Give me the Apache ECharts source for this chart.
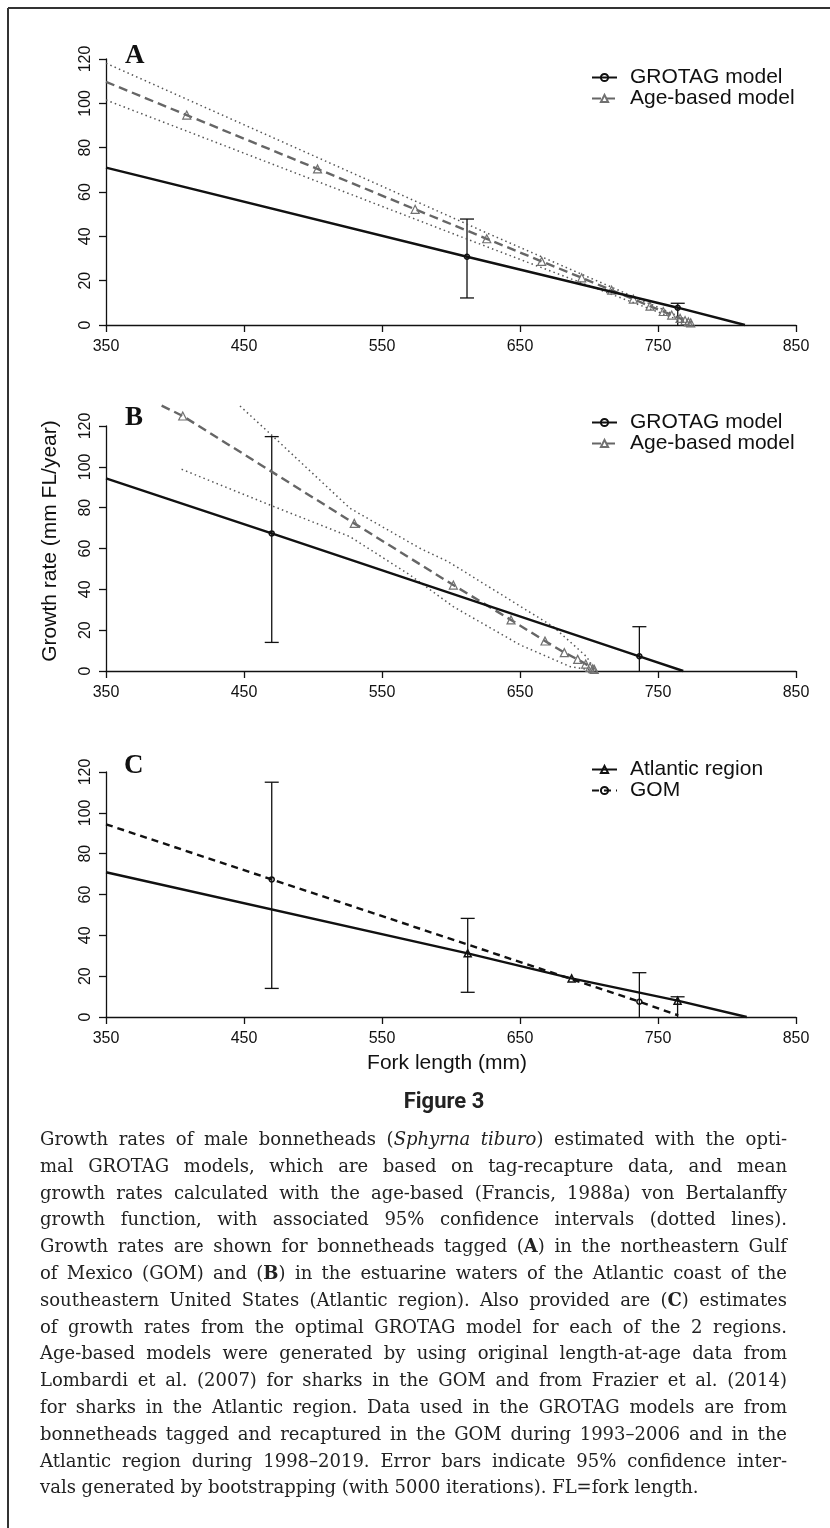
<!DOCTYPE html>
<html><head><meta charset="utf-8">
<script src="https://cdn.jsdelivr.net/npm/echarts@6/dist/echarts.min.js"></script>
<style>
html,body{margin:0;padding:0;background:#fff;}
#chart{position:absolute;left:0;top:0;width:830px;height:1528px;}
#caption{position:absolute;left:40px;top:1126px;width:747px;font-family:"DejaVu Serif",serif;font-size:18px;line-height:26.8px;color:#222;}
#caption div{text-align:justify;text-align-last:justify;white-space:normal;}
#caption div.last{text-align-last:left;}
</style></head><body>
<div id="chart"></div>
<div id="caption">
<div>Growth rates of male bonnetheads (<i>Sphyrna tiburo</i>) estimated with the opti-</div>
<div>mal GROTAG models, which are based on tag-recapture data, and mean</div>
<div>growth rates calculated with the age-based (Francis, 1988a) von Bertalanffy</div>
<div>growth function, with associated 95% confidence intervals (dotted lines).</div>
<div>Growth rates are shown for bonnetheads tagged (<b>A</b>) in the northeastern Gulf</div>
<div>of Mexico (GOM) and (<b>B</b>) in the estuarine waters of the Atlantic coast of the</div>
<div>southeastern United States (Atlantic region). Also provided are (<b>C</b>) estimates</div>
<div>of growth rates from the optimal GROTAG model for each of the 2 regions.</div>
<div>Age-based models were generated by using original length-at-age data from</div>
<div>Lombardi et al. (2007) for sharks in the GOM and from Frazier et al. (2014)</div>
<div>for sharks in the Atlantic region. Data used in the GROTAG models are from</div>
<div>bonnetheads tagged and recaptured in the GOM during 1993–2006 and in the</div>
<div>Atlantic region during 1998–2019. Error bars indicate 95% confidence inter-</div>
<div class="last">vals generated by bootstrapping (with 5000 iterations). FL=fork length.</div>
</div>
<script>
// ---------------- DATA ----------------
// Panel A (GOM)
const A_grotagStart = [350, 71.0];
const A_grotagPts   = [[611.6, 30.8], [764.3, 7.8]];
const A_grotagEnd   = [813, 0];
const A_grotagErr   = [[611.6, 12.2, 47.8], [764.3, -3, 9.8]];
const A_ageStart    = [350, 109.7];
const A_agePts      = [[408.5, 94.7], [503.3, 70.4], [574, 52.2], [625.9, 38.9], [665.7, 28.7], [694.7, 21.3], [716.4, 15.7], [732.1, 11.7], [744.2, 8.5], [753.8, 6.1], [759.9, 4.5], [766, 3.0], [769.6, 2.0], [772, 1.4], [773.7, 1.0]];
const A_ciUpper     = [[350, 118.1], [626, 41.5], [775, 1.2]];
const A_ciLower     = [[350, 101.5], [626, 35.3], [773, 0.4]];

// Panel B (Atlantic region)
const B_grotagStart = [350, 94.4];
const B_grotagPts   = [[470.1, 67.4], [736.5, 7.2]];
const B_grotagEnd   = [768.3, 0];
const B_grotagErr   = [[470.1, 14.0, 114.8], [736.5, -3, 21.7]];
const B_ageStart    = [390.3, 130];
const B_agePts      = [[405.6, 124.9], [529.9, 72.3], [601.7, 42.1], [643.5, 25.0], [668.1, 14.7], [682.1, 9.0], [691.8, 5.7], [697.6, 3.4], [700.7, 1.8], [702.7, 1.1], [703.8, 0.8]];
const B_ciUpper     = [[447.1, 129.8], [471.2, 114.8], [526.8, 79.7], [577.5, 60.1], [598.1, 53.5], [674.1, 21.7], [698.3, 7.0], [704.3, 0.5]];
const B_ciLower     = [[404.8, 98.8], [468.8, 81.3], [526.8, 65.8], [570.3, 47.0], [601.7, 31.5], [650.3, 12.7], [686.5, 2.1], [701, 0.5]];

// Panel C (both regions, GROTAG)
const C_atlStart = [350, 70.9];
const C_atlPts   = [[612.1, 31.2], [687.4, 18.9], [764.2, 8.0]];
const C_atlEnd   = [814.3, 0];
const C_gomStart = [350, 94.4];
const C_gomPts   = [[470.1, 67.4], [736.5, 7.5]];
const C_gomEnd   = [764.7, 0.8];
const C_err      = [[470.1, 14.0, 115.0], [612.1, 12.1, 48.3], [736.5, -3, 21.7], [764.2, -3, 9.9]];

const xTicks = {min: 350, max: 850, step: 100};
const yTicks = {min: 0, max: 120, step: 20};
const legendA = ['GROTAG model', 'Age-based model'];
const legendC = ['Atlantic region', 'GOM'];

// ---------------- CHART ----------------
const SANS = '"Liberation Sans", Arial, sans-serif';
const grids = [
  {left: 106, top: 59, width: 690, height: 266},
  {left: 106, top: 426, width: 690, height: 245},
  {left: 106, top: 772, width: 690, height: 245}
].map(g => Object.assign(g, {outerBoundsMode: 'none', containLabel: false}));

function xAxis(gi) {
  return {gridIndex: gi, type: 'value', min: xTicks.min, max: xTicks.max, interval: xTicks.step,
    axisLine: {show: true, onZero: false, lineStyle: {color: '#111', width: 1.3}},
    axisTick: {show: true, inside: false, length: 7, lineStyle: {color: '#111', width: 1.3}},
    axisLabel: {show: true, fontFamily: SANS, fontSize: 16, color: '#111', margin: 14, showMinLabel: true, showMaxLabel: true},
    splitLine: {show: false}};
}
function yAxis(gi) {
  return {gridIndex: gi, type: 'value', min: yTicks.min, max: yTicks.max, interval: yTicks.step,
    axisLine: {show: true, onZero: false, lineStyle: {color: '#111', width: 1.3}},
    axisTick: {show: true, inside: false, length: 7, lineStyle: {color: '#111', width: 1.3}},
    axisLabel: {show: true, rotate: 90, fontFamily: SANS, fontSize: 16, color: '#111', margin: 12, showMinLabel: true, showMaxLabel: true},
    splitLine: {show: false}};
}
function lineData(start, pts, end) {
  const d = [{value: start, symbol: 'none'}].concat(pts.map(p => ({value: p})));
  if (end) d.push({value: end, symbol: 'none'});
  return d;
}
function solid(name, gi, data, symbol, size) {
  return {type: 'line', name, xAxisIndex: gi, yAxisIndex: gi, data, symbol, symbolSize: size,
    showSymbol: true, showAllSymbol: true, clip: false, z: 4, silent: true,
    lineStyle: {color: '#111', width: 2.4, type: 'solid'},
    itemStyle: {color: 'rgba(255,255,255,0)', borderColor: '#111', borderWidth: 1.5}};
}
function ageLine(gi, data) {
  return {type: 'line', name: 'Age-based model', xAxisIndex: gi, yAxisIndex: gi, data, symbol: 'triangle', symbolSize: 8,
    showSymbol: true, showAllSymbol: true, clip: false, z: 3, silent: true,
    lineStyle: {color: '#666', width: 2.4, type: [9, 5]},
    itemStyle: {color: 'rgba(255,255,255,0)', borderColor: '#707070', borderWidth: 1.2}};
}
function dotted(name, gi, data) {
  return {type: 'line', name, xAxisIndex: gi, yAxisIndex: gi, data, symbol: 'none', clip: false, z: 2, silent: true,
    lineStyle: {color: '#555', width: 1.5, type: [1.5, 3.2]}};
}
function errBars(name, gi, data) {
  return {type: 'custom', name, xAxisIndex: gi, yAxisIndex: gi, data, z: 1, silent: true, clip: false,
    encode: {x: 0, y: [1, 2]},
    renderItem: function (params, api) {
      const x = api.value(0), lo = api.value(1), hi = api.value(2);
      const top = api.coord([x, hi]);
      const bot = api.coord([x, Math.max(lo, yTicks.min)]);
      const st = {stroke: '#111', lineWidth: 1.3};
      const c = [
        {type: 'line', shape: {x1: top[0], y1: top[1], x2: bot[0], y2: bot[1]}, style: st},
        {type: 'line', shape: {x1: top[0] - 7, y1: top[1], x2: top[0] + 7, y2: top[1]}, style: st}
      ];
      if (lo >= yTicks.min) c.push({type: 'line', shape: {x1: bot[0] - 7, y1: bot[1], x2: bot[0] + 7, y2: bot[1]}, style: st});
      return {type: 'group', children: c};
    }};
}

const legendBase = {orient: 'vertical', left: 591, itemWidth: 25, itemHeight: 9, itemGap: 0, selectedMode: false,
  padding: 0, textStyle: {fontFamily: SANS, fontSize: 21, color: '#111', lineHeight: 19.5, padding: [0, 0, 0, 8]}};

const option = {
  animation: false,
  backgroundColor: '#fff',
  grid: grids,
  xAxis: [xAxis(0), xAxis(1), xAxis(2)],
  yAxis: [yAxis(0), yAxis(1), yAxis(2)],
  legend: [
    Object.assign({}, legendBase, {data: legendA, top: 67}),
    Object.assign({}, legendBase, {data: legendA, top: 412}),
    Object.assign({}, legendBase, {data: legendC, top: 759})
  ],
  series: [
    errBars('errA', 0, A_grotagErr),
    dotted('ciAu', 0, A_ciUpper), dotted('ciAl', 0, A_ciLower),
    ageLine(0, lineData(A_ageStart, A_agePts)),
    solid('GROTAG model', 0, lineData(A_grotagStart, A_grotagPts, A_grotagEnd), 'circle', 5),

    errBars('errB', 1, B_grotagErr),
    dotted('ciBu', 1, B_ciUpper), dotted('ciBl', 1, B_ciLower),
    ageLine(1, lineData(B_ageStart, B_agePts)),
    solid('GROTAG model', 1, lineData(B_grotagStart, B_grotagPts, B_grotagEnd), 'circle', 5),

    errBars('errC', 2, C_err),
    solid('Atlantic region', 2, lineData(C_atlStart, C_atlPts, C_atlEnd), 'triangle', 7),
    Object.assign(solid('GOM', 2, lineData(C_gomStart, C_gomPts, C_gomEnd), 'circle', 5),
      {lineStyle: {color: '#111', width: 2.4, type: [7, 5]}})
  ],
  graphic: [
    {type: 'line', shape: {x1: 8, y1: 8, x2: 830, y2: 8}, style: {stroke: '#333', lineWidth: 2}},
    {type: 'line', shape: {x1: 8, y1: 8, x2: 8, y2: 1528}, style: {stroke: '#333', lineWidth: 2}},
    {type: 'text', x: 125, y: 56, style: {text: 'A', font: 'bold 27px "Liberation Serif", serif', fill: '#111', align: 'left', verticalAlign: 'middle'}},
    {type: 'text', x: 125, y: 418, style: {text: 'B', font: 'bold 27px "Liberation Serif", serif', fill: '#111', align: 'left', verticalAlign: 'middle'}},
    {type: 'text', x: 124, y: 766, style: {text: 'C', font: 'bold 27px "Liberation Serif", serif', fill: '#111', align: 'left', verticalAlign: 'middle'}},
    {type: 'text', x: 50, y: 541, rotation: Math.PI / 2, style: {text: 'Growth rate (mm FL/year)', font: '21px ' + SANS, fill: '#111', align: 'center', verticalAlign: 'middle'}},
    {type: 'text', x: 447, y: 1063, style: {text: 'Fork length (mm)', font: '21px ' + SANS, fill: '#111', align: 'center', verticalAlign: 'middle'}},
    {type: 'text', x: 444, y: 1102, style: {text: 'Figure 3', font: 'bold 22px Roboto, sans-serif', fill: '#222', align: 'center', verticalAlign: 'middle'}}
  ]
};
const chart = echarts.init(document.getElementById('chart'), null, {renderer: 'canvas'});
chart.setOption(option);
</script>
</body></html>
